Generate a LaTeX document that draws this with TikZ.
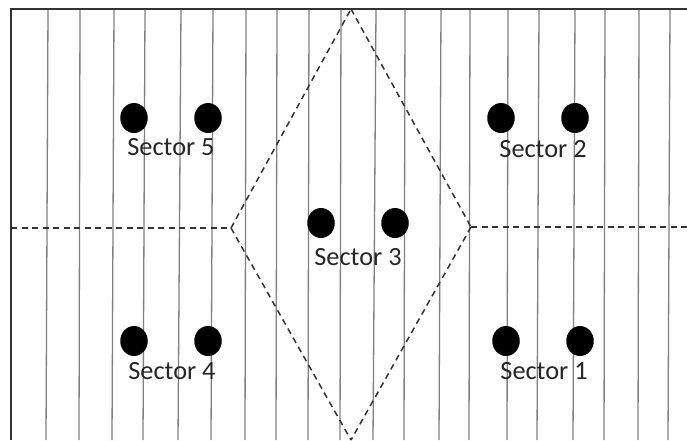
\documentclass[tikz,border=0pt]{standalone}
\usepackage{fontspec}
\setmainfont{Carlito}
\usetikzlibrary{shapes.geometric}
\tikzset{
  dot/.style={ellipse,fill=black,draw=none,minimum width=27.5pt,minimum height=30pt,inner sep=0pt},
  seclabel/.style={font=\fontsize{26.3pt}{30pt}\selectfont,text=black!85,inner sep=0pt,anchor=center},
  hatch/.style={draw=black!50,line width=1.3pt},
  frameline/.style={draw=black!80,line width=1.5pt},
  boundary/.style={draw=black!80,line width=1.5pt,dash pattern=on 6pt off 4.5pt}
}
\begin{document}
\begin{tikzpicture}[x=1pt,y=-1pt]
\useasboundingbox (0,0) rectangle (687,440);
\fill[white] (0,0) rectangle (687,440);
% hatching lines
\foreach \a/\b in {48/46,80/79,114/112,145/143,181/178,213/211,246/245,277/276,309/308,341/340,376/373,405/404,441/439,470/469,508/507,539/537,575/573,605/604,639/638,670/668}
  \draw[hatch] (\a,9) -- (\b,440);
% frame
\coordinate (tl) at (11,9);
\coordinate (tr) at (687,9);
\coordinate (bl) at (11,440);
\draw[frameline] (bl) -- (tl) -- (tr);
% sector boundaries
\coordinate (dt) at (351,9);
\coordinate (dl) at (231,228);
\coordinate (dr) at (471,227);
\coordinate (db) at (351,440);
\coordinate (el) at (11,228);
\coordinate (er) at (687,227);
\draw[boundary] (dl) -- (dt);
\draw[boundary] (dt) -- (dr);
\draw[boundary] (dr) -- (db);
\draw[boundary] (dl) -- (db);
\draw[boundary] (el) -- (dl);
\draw[boundary] (dr) -- (er);
% dots
\node[dot] (s5a) at (134,118) {};
\node[dot] (s5b) at (208,118) {};
\node[dot] (s2a) at (501,118) {};
\node[dot] (s2b) at (575,118) {};
\node[dot] (s3a) at (321,223) {};
\node[dot] (s3b) at (395,223) {};
\node[dot] (s4a) at (134,341) {};
\node[dot] (s4b) at (208,341) {};
\node[dot] (s1a) at (506,341) {};
\node[dot] (s1b) at (580,341) {};
% labels
\node[seclabel] (l5) at (171,147) {Sector 5};
\node[seclabel] (l2) at (543,149.5) {Sector 2};
\node[seclabel] (l3) at (358,257) {Sector 3};
\node[seclabel] (l4) at (172,371.5) {Sector 4};
\node[seclabel] (l1) at (544,371.5) {Sector 1};
\end{tikzpicture}
\end{document}
